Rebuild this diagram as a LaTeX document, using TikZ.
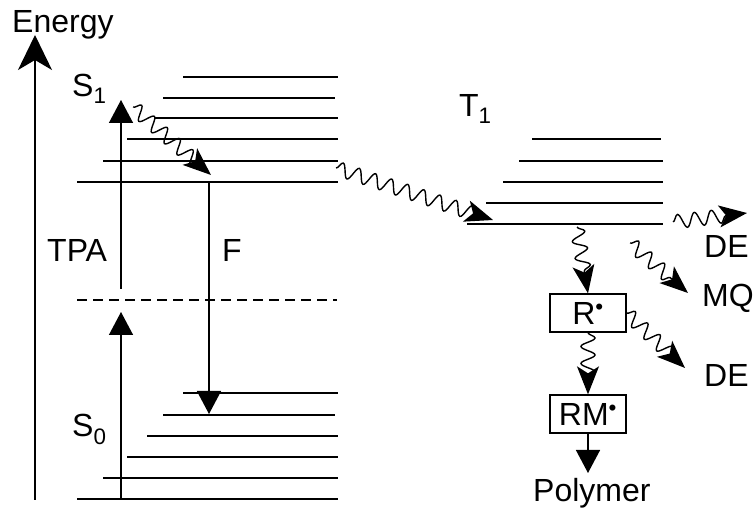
\documentclass[tikz,border=0pt]{standalone}
\usepackage{fontspec}
\setmainfont{Liberation Sans}
\usetikzlibrary{arrows.meta,decorations.pathmorphing}

\begin{document}
\begin{tikzpicture}[x=1pt,y=-1pt,
  elev/.style={line width=1.8pt},
  txt/.style={font=\fontsize{32}{34}\selectfont, inner sep=0pt},
  wave/.style={line width=1.4pt, decorate,
    decoration={snake, amplitude=7pt, segment length=17pt, post length=16pt},
    -{Stealth[length=28pt,width=22pt,inset=7pt]}},
  trans/.style={line width=1.4pt, -{Triangle[length=23pt,width=24pt]}},
  species/.style={draw, line width=1.3pt, minimum width=76pt, minimum height=38pt,
    inner sep=0pt, font=\fontsize{32}{34}\selectfont}]
  \useasboundingbox (0,0) rectangle (756,510);
  % energy axis
  \coordinate (e0) at (35,500);
  \coordinate (e1) at (35,35);
  \draw[line width=1.4pt, -{Stealth[length=35pt,width=34pt,inset=10pt]}] (e0) -- (e1);
  \node[txt, anchor=base west] (energy) at (12,33) {Energy};
  % S1 levels
  \draw[elev] (183,77) -- (338,77);
  \draw[elev] (163,98) -- (335,98);
  \draw[elev] (155,118) -- (338,118);
  \draw[elev] (127,139) -- (338,139);
  \draw[elev] (103,161) -- (338,161);
  \draw[elev] (77,182) -- (338,182);
  % virtual level and S0 levels
  \draw[elev, dash pattern=on 10pt off 6pt] (77,300) -- (337,300);
  \draw[elev] (183,393) -- (338,393);
  \draw[elev] (163,415) -- (335,415);
  \draw[elev] (147,436) -- (338,436);
  \draw[elev] (127,457) -- (338,457);
  \draw[elev] (103,478) -- (338,478);
  \draw[elev] (77,499) -- (338,499);
  % T1 levels
  \draw[elev] (532,139) -- (661,139);
  \draw[elev] (519,161) -- (663,161);
  \draw[elev] (503,182) -- (663,182);
  \draw[elev] (486,203) -- (663,203);
  \draw[elev] (467,224) -- (663,224);
  % labels
  \node[txt, anchor=base west] (s1) at (72,97) {S\textsubscript{1}};
  \node[txt, anchor=base west] (s0) at (72,437) {S\textsubscript{0}};
  \node[txt, anchor=base west] (tpa) at (47,262) {TPA};
  \node[txt, anchor=base west] (fl) at (222,262) {F};
  \node[txt, anchor=base west] (t1) at (459,117) {T\textsubscript{1}};
  \node[txt, anchor=base west] (de1) at (704,258) {DE};
  \node[txt, anchor=base west] (mq) at (702,307) {MQ};
  \node[txt, anchor=base west] (de2) at (704,387) {DE};
  \node[txt, anchor=base west] (polymer) at (533,502) {Polymer};
  \node[species] (rad) at (588,313) {R\textsuperscript{\textbullet}};
  \node[species] (rmrad) at (588,414) {RM\textsuperscript{\textbullet}};
  % two-photon absorption and fluorescence
  \coordinate (a0) at (121,499);
  \coordinate (a1) at (121,312);
  \coordinate (a2) at (121,289);
  \coordinate (a3) at (121,100);
  \draw[trans] (a0) -- (a1);
  \draw[trans] (a2) -- (a3);
  \coordinate (f0) at (209,182);
  \coordinate (f1) at (209,414);
  \draw[trans] (f0) -- (f1);
  % radiationless steps
  \coordinate (w0) at (133,107);
  \coordinate (w1) at (211,175);
  \coordinate (isc0) at (336,168);
  \coordinate (isc1) at (493,220);
  \coordinate (d0) at (673,222);
  \coordinate (d1) at (747,213);
  \coordinate (r0) at (577,227);
  \coordinate (q0) at (630,243);
  \coordinate (q1) at (688,293);
  \coordinate (x1) at (685,368);
  \coordinate (ptip) at (588,473);
  \draw[wave] (w0) -- (w1);
  \draw[wave] (isc0) -- (isc1);
  \draw[wave] (d0) -- (d1);
  \draw[wave] (r0) -- (rad.north);
  \draw[wave] (q0) -- (q1);
  \draw[wave] (rad.south) -- (rmrad.north);
  \draw[wave] (rad.east) -- (x1);
  \draw[trans] (rmrad.south) -- (ptip);
\end{tikzpicture}
\end{document}
